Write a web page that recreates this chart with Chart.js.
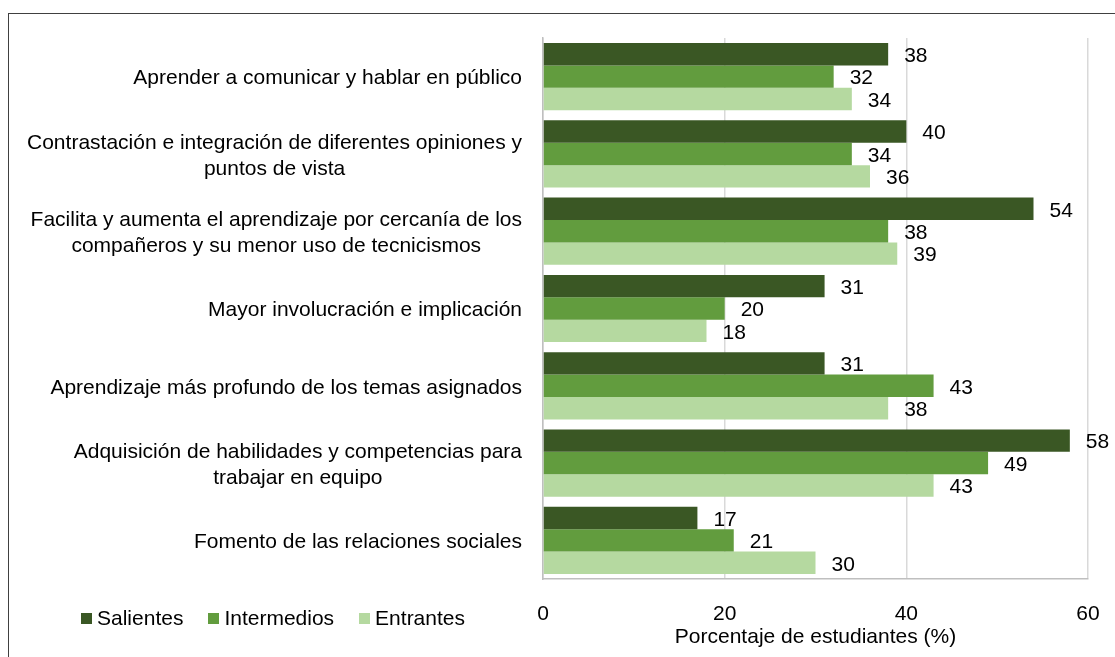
<!DOCTYPE html>
<html>
<head>
<meta charset="utf-8">
<script src="https://cdn.jsdelivr.net/npm/chart.js@4.4.1/dist/chart.umd.min.js"></script>
<style>
  html, body { margin: 0; padding: 0; background: #fff; }
  #wrap { position: relative; width: 1115px; height: 657px; overflow: hidden; }
  #frame { position: absolute; left: 8px; top: 13px; width: 1200px; height: 700px; border: 1.5px solid #404040; box-sizing: border-box; }
  canvas { position: absolute; left: 0; top: 0; }
  #legend { position: absolute; left: 81px; top: 605px; font-family: "Liberation Sans", Arial, sans-serif; font-size: 21px; color: #000; display: flex; line-height: 26px; }
  #legend .item { display: flex; align-items: center; margin-right: 25px; }
  #legend .sw { width: 11px; height: 11px; margin-right: 5px; }
</style>
</head>
<body>
<div id="wrap">
  <div id="frame"></div>
  <canvas id="c" width="1115" height="657"></canvas>
  <div id="legend"></div>
</div>
<script>
const categories = [
  ["Aprender a comunicar y hablar en público"],
  ["Contrastación e integración de diferentes opiniones y", "puntos de vista"],
  ["Facilita y aumenta el aprendizaje por cercanía de los", "compañeros y su menor uso de tecnicismos"],
  ["Mayor involucración e implicación"],
  ["Aprendizaje más profundo de los temas asignados"],
  ["Adquisición de habilidades y competencias para", "trabajar en equipo"],
  ["Fomento de las relaciones sociales"]
];
const seriesNames = ["Salientes", "Intermedios", "Entrantes"];
const salientes   = [38, 40, 54, 31, 31, 58, 17];
const intermedios = [32, 34, 38, 20, 43, 49, 21];
const entrantes   = [34, 36, 39, 18, 38, 43, 30];
const seriesColors = ["#3A5724", "#629C3E", "#B5D9A0"];
const xTicks = [0, 20, 40, 60];
const xTitle = "Porcentaje de estudiantes (%)";

const FONT = '"Liberation Sans", Arial, sans-serif';

const labelsPlugin = {
  id: 'customLabels',
  afterDatasetsDraw(chart) {
    const ctx = chart.ctx;
    ctx.save();
    ctx.font = '21px ' + FONT;
    ctx.fillStyle = '#000';
    ctx.textAlign = 'left';
    ctx.textBaseline = 'middle';
    chart.data.datasets.forEach((ds, i) => {
      const meta = chart.getDatasetMeta(i);
      meta.data.forEach((bar, j) => {
        ctx.fillText(String(ds.data[j]), bar.x + 16, bar.y + 2);
      });
    });
    // category labels: block right-aligned, lines centered
    const ys = chart.scales.y;
    const rightEdge = 522;
    const lh = 26;
    chart.data.labels.forEach((lines, idx) => {
      const cy = ys.getPixelForValue(idx);
      const widths = lines.map(l => ctx.measureText(l).width);
      const maxW = Math.max(...widths);
      const cx = rightEdge - maxW / 2;
      ctx.textAlign = 'center';
      const startY = cy - (lines.length - 1) * lh / 2 + 2;
      lines.forEach((l, k) => ctx.fillText(l, cx, startY + k * lh));
    });
    ctx.restore();
  }
};

const chart = new Chart(document.getElementById('c'), {
  type: 'bar',
  data: {
    labels: categories,
    datasets: [
      { label: seriesNames[0], data: salientes, backgroundColor: seriesColors[0] },
      { label: seriesNames[1], data: intermedios, backgroundColor: seriesColors[1] },
      { label: seriesNames[2], data: entrantes, backgroundColor: seriesColors[2] }
    ]
  },
  options: {
    indexAxis: 'y',
    responsive: false,
    animation: false,
    devicePixelRatio: 1,
    layout: { padding: { left: 0, right: 27, top: 38, bottom: 0 } },
    datasets: { bar: { categoryPercentage: 0.87, barPercentage: 1.0, borderWidth: 0 } },
    plugins: { legend: { display: false }, tooltip: { enabled: false } },
    scales: {
      y: {
        ticks: { display: false },
        grid: { display: false, drawTicks: false },
        border: { display: true, color: '#BFBFBF', width: 1.5 },
        afterFit(scale) { scale.width = 543; }
      },
      x: {
        min: 0, max: 60,
        afterBuildTicks(scale) { scale.ticks = xTicks.map(v => ({ value: v })); },
        ticks: { font: { size: 21, family: FONT }, color: '#000', padding: 23, maxRotation: 0 },
        grid: { color: '#D9D9D9', lineWidth: 1.5, drawTicks: false },
        border: { display: true, color: '#BFBFBF', width: 1.5 },
        title: { display: true, text: xTitle, font: { size: 21, family: FONT }, color: '#000', padding: { top: 0, bottom: 7 } },
        afterFit(scale) { scale.height = 78; scale.paddingLeft = 0; scale.paddingRight = 0; }
      }
    }
  },
  plugins: [labelsPlugin]
});

const legend = document.getElementById('legend');
seriesNames.forEach((n, i) => {
  const it = document.createElement('div');
  it.className = 'item';
  it.innerHTML = '<span class="sw" style="background:' + seriesColors[i] + '"></span><span>' + n + '</span>';
  legend.appendChild(it);
});
</script>
</body>
</html>
